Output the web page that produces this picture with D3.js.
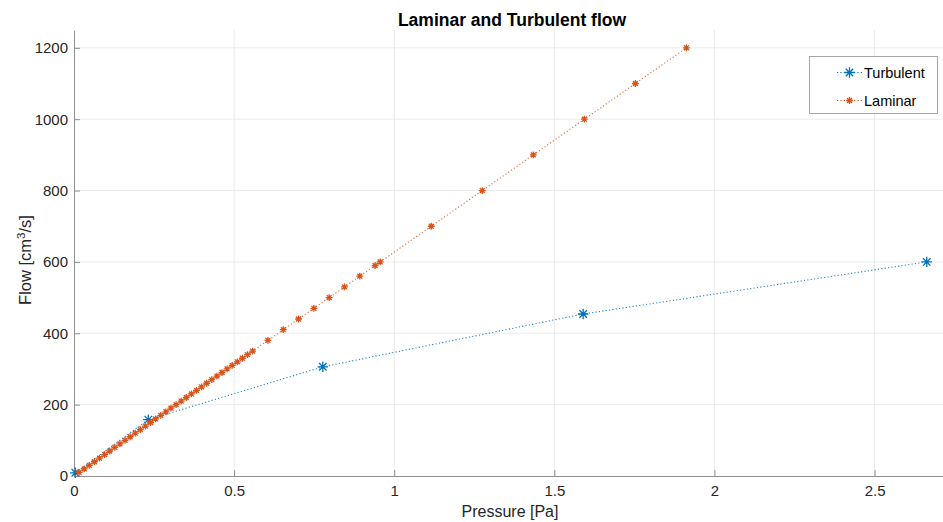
<!DOCTYPE html>
<html>
<head>
<meta charset="utf-8">
<script src="https://cdn.jsdelivr.net/npm/d3@7/dist/d3.min.js"></script>
<style>
  html, body { margin: 0; padding: 0; background: #fff; }
  svg { display: block; font-family: "Liberation Sans", Arial, Helvetica, sans-serif; }
</style>
</head>
<body>
<svg id="chart" width="943" height="522"></svg>
<script>
// Turbulent flow measurements
const turbulentPressure = [0.004, 0.232, 0.777, 1.590, 2.663];
const turbulentFlow     = [9, 158, 306, 454, 600];

// Laminar flow measurements
const laminarFlow = [
  10, 20, 30, 40, 50, 60, 70, 80, 90, 100,
  110, 120, 130, 140, 150, 160, 170, 180, 190, 200,
  210, 220, 230, 240, 250, 260, 270, 280, 290, 300,
  310, 320, 330, 340, 350,
  380, 410, 440, 470, 500, 530, 560, 590,
  600, 700, 800, 900, 1000, 1100, 1200
];
const laminarPressure = [
  0.0159, 0.0319, 0.0478, 0.0638, 0.0797, 0.0956, 0.1116, 0.1275, 0.1434, 0.1594,
  0.1753, 0.1913, 0.2072, 0.2231, 0.2391, 0.2550, 0.2709, 0.2869, 0.3028, 0.3188,
  0.3347, 0.3506, 0.3666, 0.3825, 0.3984, 0.4144, 0.4303, 0.4463, 0.4622, 0.4781,
  0.4941, 0.5100, 0.5259, 0.5419, 0.5578,
  0.6056, 0.6535, 0.7013, 0.7491, 0.7969, 0.8447, 0.8925, 0.9403,
  0.9563, 1.1157, 1.2750, 1.4344, 1.5938, 1.7532, 1.9125
];

const xTicks = [0, 0.5, 1, 1.5, 2, 2.5];
const xTickLabels = ["0", "0.5", "1", "1.5", "2", "2.5"];
const yTicks = [0, 200, 400, 600, 800, 1000, 1200];

const series = [
  { name: "Turbulent", color: "#0072BD", size: 5.2,
    data: turbulentPressure.map((p, i) => [p, turbulentFlow[i]]) },
  { name: "Laminar", color: "#D95319", size: 3.4,
    data: laminarPressure.map((p, i) => [p, laminarFlow[i]]) }
];

const svg = d3.select("#chart");
const plotLeft = 74, plotRight = 945, plotTop = 30, plotBottom = 476;

const x = d3.scaleLinear().domain([0, 2.72]).range([plotLeft, plotRight]);
const y = d3.scaleLinear().domain([0, 1250]).range([plotBottom, plotTop]);

const plot = svg.append("g");

// grid
plot.append("g").selectAll("line").data(xTicks.slice(1)).join("line")
  .attr("x1", d => x(d)).attr("x2", d => x(d))
  .attr("y1", plotTop).attr("y2", plotBottom)
  .attr("stroke", "#ebebeb").attr("stroke-width", 1);
plot.append("g").selectAll("line").data(yTicks.slice(1)).join("line")
  .attr("x1", plotLeft).attr("x2", plotRight)
  .attr("y1", d => y(d)).attr("y2", d => y(d))
  .attr("stroke", "#ebebeb").attr("stroke-width", 1);

// axes (ticks pointing inward)
const xAxis = d3.axisBottom(x).tickValues(xTicks)
  .tickFormat((d, i) => xTickLabels[i]).tickSizeInner(-6).tickSizeOuter(0).tickPadding(9);
const yAxis = d3.axisLeft(y).tickValues(yTicks)
  .tickFormat(d3.format("d")).tickSizeInner(-6).tickSizeOuter(0).tickPadding(6);

const gx = svg.append("g").attr("transform", `translate(0,${plotBottom})`).call(xAxis);
const gy = svg.append("g").attr("transform", `translate(${plotLeft},0)`).call(yAxis);
[gx, gy].forEach(g => {
  g.select(".domain").attr("stroke", "#8f8f8f");
  g.selectAll(".tick line").attr("stroke", "#8f8f8f");
  g.selectAll(".tick text").attr("fill", "#262626")
    .style("font-size", "15px").style("font-family", "'Liberation Sans', Arial, sans-serif");
});
gx.selectAll(".tick text").attr("dy", "0.71em");

// asterisk marker path
function asterisk(s) {
  const d = s * 0.72;
  return `M${-s},0L${s},0M0,${-s}L0,${s}M${-d},${-d}L${d},${d}M${-d},${d}L${d},${-d}`;
}

const line = d3.line().x(d => x(d[0])).y(d => y(d[1]));

series.forEach(s => {
  const g = svg.append("g");
  g.append("path").datum(s.data).attr("d", line)
    .attr("fill", "none").attr("stroke", s.color).attr("stroke-width", 1.1)
    .attr("stroke-dasharray", "1.2,2.2").attr("opacity", 0.85);
  g.selectAll("path.mk").data(s.data).join("path").attr("class", "mk")
    .attr("transform", d => `translate(${x(d[0])},${y(d[1])})`)
    .attr("d", asterisk(s.size))
    .attr("fill", "none").attr("stroke", s.color).attr("stroke-width", 1.3);
});

// title and axis labels
svg.append("text").attr("x", 512).attr("y", 26).attr("text-anchor", "middle")
  .style("font-size", "17.5px").style("font-weight", "bold").attr("fill", "#000")
  .text("Laminar and Turbulent flow");

svg.append("text").attr("x", 510).attr("y", 517).attr("text-anchor", "middle")
  .style("font-size", "16px").attr("fill", "#262626").text("Pressure [Pa]");

const yl = svg.append("text").attr("transform", "translate(31,260) rotate(-90)")
  .attr("text-anchor", "middle").style("font-size", "16.5px").attr("fill", "#262626");
yl.append("tspan").text("Flow [cm");
yl.append("tspan").attr("dy", "-6").style("font-size", "11.5px").text("3");
yl.append("tspan").attr("dy", "6").text("/s]");

// legend
const lg = svg.append("g");
lg.append("rect").attr("x", 809.5).attr("y", 56.5).attr("width", 128).attr("height", 57)
  .attr("fill", "#fff").attr("stroke", "#a6a6a6").attr("stroke-width", 1);
series.forEach((s, i) => {
  const cy = 72.5 + i * 28;
  lg.append("line").attr("x1", 837).attr("x2", 862).attr("y1", cy).attr("y2", cy)
    .attr("stroke", s.color).attr("stroke-width", 1.1).attr("stroke-dasharray", "1.2,2.2");
  lg.append("path").attr("transform", `translate(849.5,${cy})`).attr("d", asterisk(s.size))
    .attr("fill", "none").attr("stroke", s.color).attr("stroke-width", 1.3);
  lg.append("text").attr("x", 864).attr("y", cy).attr("dy", "0.35em")
    .style("font-size", "14.5px").attr("fill", "#000").text(s.name);
});
</script>
</body>
</html>
